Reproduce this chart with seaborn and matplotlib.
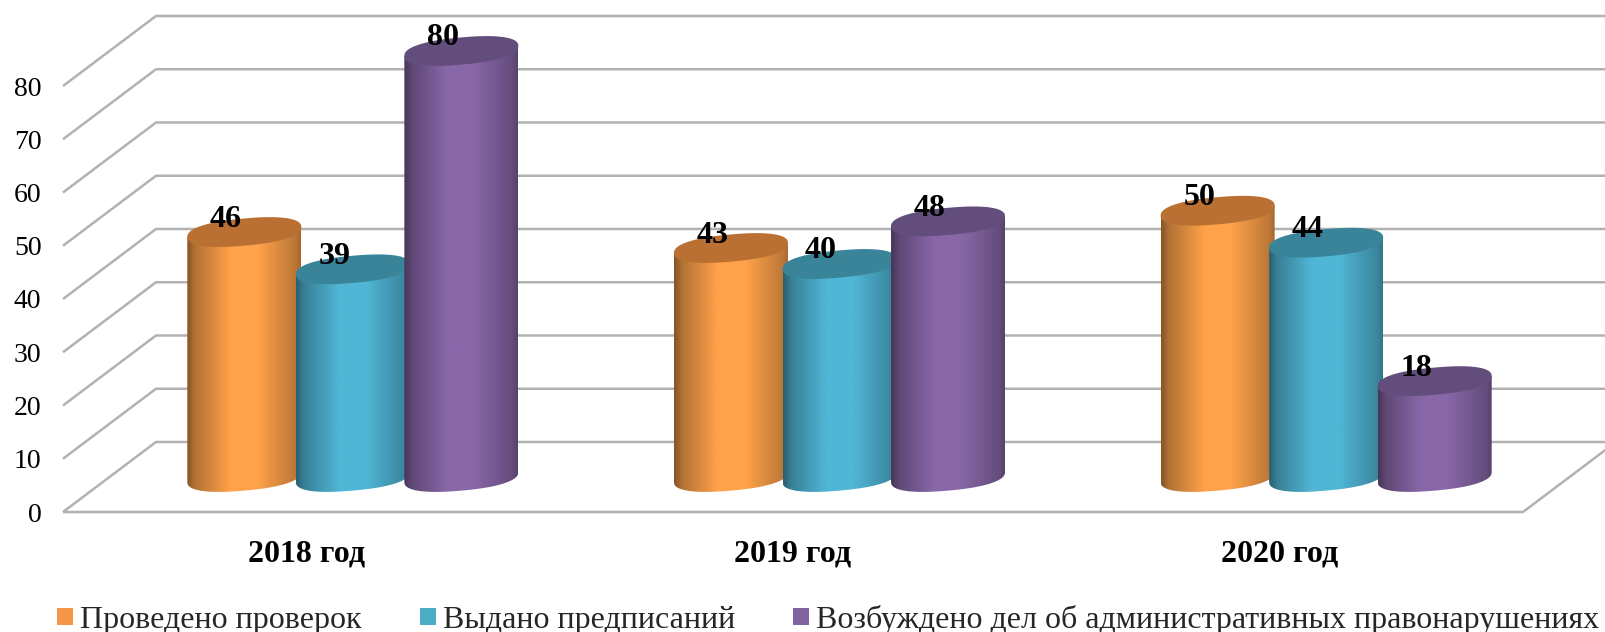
import numpy as np
import pandas as pd
import matplotlib
matplotlib.use("Agg")
import matplotlib.pyplot as plt
from matplotlib.colors import LinearSegmentedColormap, to_rgb
from matplotlib.patches import Patch, PathPatch, Polygon
from matplotlib.path import Path
import seaborn as sns

categories = ["2018 год", "2019 год", "2020 год"]
checks = [46, 43, 50]
orders = [39, 40, 44]
cases = [80, 48, 18]
series_names = ["Проведено проверок", "Выдано предписаний",
                "Возбуждено дел об административных правонарушениях"]
y_ticks = [0, 10, 20, 30, 40, 50, 60, 70, 80]

palette = ["#F79646", "#4BACC6", "#8064A2"]
peak = ["#FFA24A", "#50B6D6", "#8867A8"]
tops = ["#BB7033", "#3A8499", "#634D7C"]
GRID = "#B2B2B2"

sns.set_theme(style="white")
plt.rcParams["font.family"] = ["Liberation Serif", "DejaVu Serif"]

W, H = 1605, 632
fig = plt.figure(figsize=(W / 100, H / 100), dpi=100)
ax = fig.add_axes([63 / W, (H - 512) / H, 1460 / W, 426 / H])

df = pd.DataFrame({
    "cat": categories * 3,
    "series": sum([[n] * 3 for n in series_names], []),
    "value": checks + orders + cases,
})
sns.barplot(data=df, x="cat", y="value", hue="series", hue_order=series_names,
            palette=palette, width=0.669, gap=0, saturation=1, legend=False, ax=ax)

ax.set_xlim(-0.5, 2.5)
ax.set_ylim(0, 80)
PX = 3 / 1460            # category units per pixel
PY = 80 / 426            # value units per pixel
DX, DY = 93 * PX, 70 * PY

# walls: slanted lines, back grid and floor
line = dict(color=GRID, lw=1.8, clip_on=False, zorder=1, solid_capstyle="butt")
for v in y_ticks:
    ax.plot([-0.5, -0.5 + DX, 2.5 + DX], [v, v + DY, v + DY], **line)
ax.plot([-0.5, 2.5, 2.5 + DX], [0, 0, DY], **line)

A, S, B = 57 * PX, 5 * PY, 13.6 * PY


def ring(cx, cy, t):
    # slightly blunt, tilted ellipse
    c, s = np.cos(t), np.sin(t)
    c = np.sign(c) * np.abs(c) ** 0.85
    s = np.sign(s) * np.abs(s) ** 0.85
    return cx + A * c, cy + B * s + S * c


for h, container in enumerate(ax.containers):
    cmap = LinearSegmentedColormap.from_list("c", [
        (0.0, tuple(c * 0.52 for c in to_rgb(peak[h]))),
        (0.07, tuple(c * 0.70 for c in to_rgb(peak[h]))),
        (0.38, peak[h]), (0.62, peak[h]),
        (0.95, tuple(c * 0.74 for c in to_rgb(peak[h]))),
        (1.0, tuple(c * 0.64 for c in to_rgb(peak[h]))),
    ])
    grad = np.linspace(0, 1, 256).reshape(1, -1)
    for bar in container:
        bar.set_visible(False)
        cx = bar.get_x() + bar.get_width() / 2 + DX / 2
        base = DY / 2
        top = base + bar.get_height()
        z = 3 + h
        # body: lower half of base ellipse, up the sides
        t = np.linspace(np.pi, 2 * np.pi, 60)
        bx, by = ring(cx, base, t)
        vx = np.r_[bx, cx + A, cx - A, bx[0]]
        vy = np.r_[by, top + S, top - S, by[0]]
        body = PathPatch(Path(np.c_[vx, vy]), transform=ax.transData)
        im = ax.imshow(grad, cmap=cmap, extent=[cx - A, cx + A, base - 20, top + 20],
                       aspect="auto", interpolation="bilinear", zorder=z)
        im.set_clip_path(body)
        im.set_clip_box(fig.bbox)
        # top ellipse
        t = np.linspace(0, 2 * np.pi, 120)
        tx, ty = ring(cx, top, t)
        ax.add_patch(Polygon(np.c_[tx, ty], closed=True, fc=tops[h], ec="none",
                             clip_on=False, zorder=z + 0.1))
        ax.annotate(f"{bar.get_height():.0f}", xy=(cx, top),
                    xytext=(-18.5 * 0.72, 13 * 0.72), textcoords="offset points",
                    ha="center", va="center", fontsize=23, fontweight="bold",
                    color="black", zorder=10, annotation_clip=False)

ax.set_xlim(-0.5, 2.5)
ax.set_ylim(0, 80)
ax.set_xlabel("")
ax.set_ylabel("")
ax.set_yticks(y_ticks)
ax.tick_params(axis="y", length=0, pad=15.5, labelsize=20, labelcolor="black")
ax.tick_params(axis="x", length=0, pad=19.5, labelsize=23, labelcolor="black")
for lab in ax.get_xticklabels():
    lab.set_fontweight("bold")
sns.despine(ax=ax, left=True, bottom=True)
ax.patch.set_visible(False)

handles = [Patch(facecolor=c, edgecolor="none", label=n) for c, n in zip(palette, series_names)]
fig.legend(handles=handles, ncol=3, loc="center left", bbox_to_anchor=(57 / W, (H - 620) / H),
           frameon=False, fontsize=23, handlelength=0.5, handleheight=0.47,
           handletextpad=0.22, columnspacing=1.82, borderpad=0, borderaxespad=0)

fig.savefig("out.png", dpi=100)
